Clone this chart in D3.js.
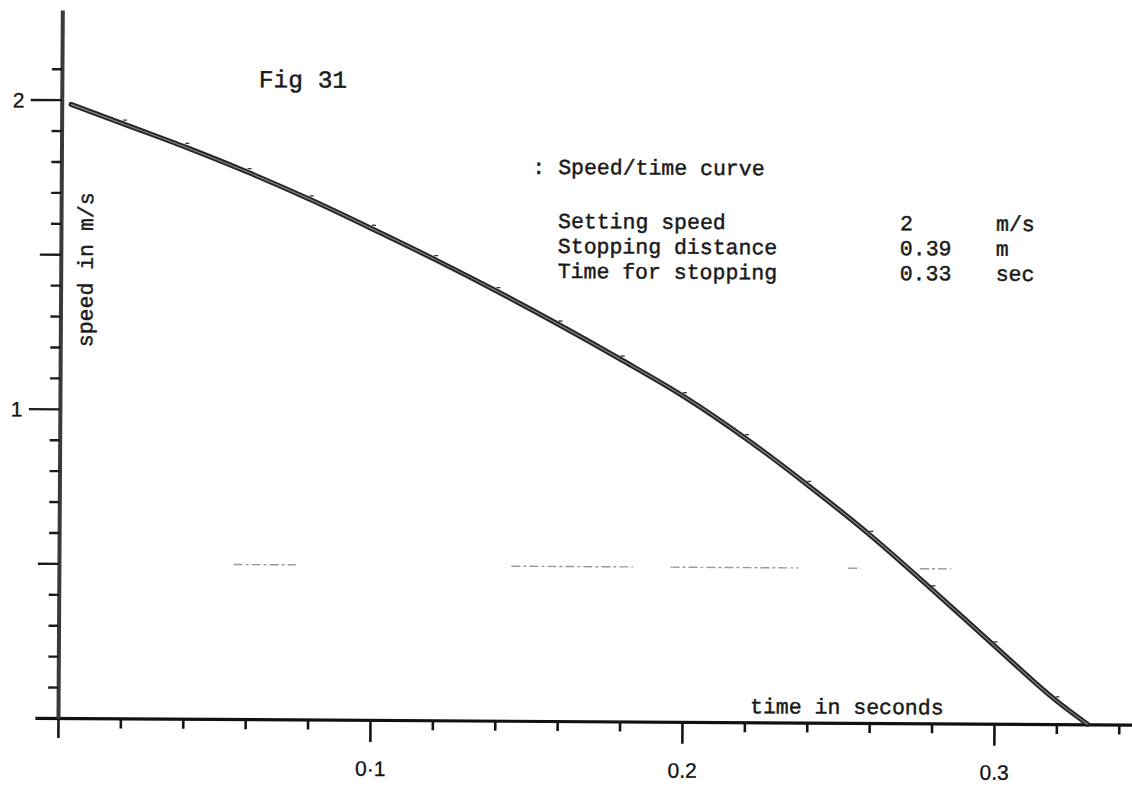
<!DOCTYPE html>
<html>
<head>
<meta charset="utf-8">
<script src="https://cdn.jsdelivr.net/npm/d3@7"></script>
<style>
  html, body { margin: 0; padding: 0; background: #fff; }
  svg { display: block; }
  .mono { font-family: "Liberation Mono", "DejaVu Sans Mono", monospace; fill: #1a1a1a;
          stroke: #1a1a1a; stroke-width: 0.45px; }
  .num { font-family: "Liberation Sans", Arial, sans-serif; fill: #111;
         stroke: #111; stroke-width: 0.3px; }
</style>
</head>
<body>
<svg id="chart" width="1132" height="788"></svg>
<script>
// Speed/time curve of the stopping run (time in s, speed in m/s)
const timeS   = [0.003, 0.02, 0.04, 0.06, 0.08, 0.10, 0.12, 0.14, 0.16, 0.18,
                 0.20, 0.22, 0.24, 0.26, 0.28, 0.30, 0.32, 0.33];
const speedMS = [1.985, 1.922, 1.848, 1.768, 1.681, 1.587, 1.490, 1.388, 1.281, 1.169,
                 1.052, 0.917, 0.767, 0.607, 0.432, 0.252, 0.075, 0];

// Axis ticks
const xTicks      = [0, 0.02, 0.04, 0.06, 0.08, 0.10, 0.12, 0.14, 0.16, 0.18,
                     0.20, 0.22, 0.24, 0.26, 0.28, 0.30, 0.32, 0.34];
const xMajorTicks = [0.1, 0.2, 0.3];
const xTickLabels = ["0·1", "0.2", "0.3"];
const yTicks      = [0.1, 0.2, 0.3, 0.4, 0.5, 0.6, 0.7, 0.8, 0.9, 1.0,
                     1.1, 1.2, 1.3, 1.4, 1.5, 1.6, 1.7, 1.8, 1.9, 2.0, 2.1];
const yMajorTicks = [1, 2];
const yTickLabels = ["1", "2"];

// Text block
const figTitle   = "Fig 31";
const curveTitle = ": Speed/time curve";
const infoRows   = ["Setting speed", "Stopping distance", "Time for stopping"];
const infoValues = ["2", "0.39", "0.33"];
const infoUnits  = ["m/s", "m", "sec"];
const xTitle = "time in seconds";
const yTitle = "speed in m/s";

// Faint pencilled rule at 0.5 m/s, broken into runs (time ranges)
const halfSpeedLevel = 0.5;
const halfSpeedRuns = [[0.056, 0.076], [0.145, 0.184], [0.196, 0.237], [0.253, 0.257], [0.276, 0.286]];

const svg = d3.select("#chart");
const key = d => Math.round(d * 100);

const x = d3.scaleLinear().domain([-0.0074, 0.345]).range([34.9, 1134.4]);
const y = d3.scaleLinear().domain([0, 2.29]).range([718, 10]);

// whole sheet sits very slightly rotated
const g = svg.append("g").attr("transform", `rotate(0.35, ${x(0)}, ${y(0)})`);

// faint rule
g.append("g").selectAll("line").data(halfSpeedRuns).join("line")
  .attr("x1", d => x(d[0])).attr("x2", d => x(d[1]))
  .attr("y1", y(halfSpeedLevel)).attr("y2", y(halfSpeedLevel))
  .attr("stroke", "#9a9a9a").attr("stroke-width", 1.4)
  .attr("stroke-dasharray", "9 3 3 3");

// x axis
const xLabel = new Map(xMajorTicks.map((d, i) => [key(d), xTickLabels[i]]));
const gx = g.append("g").attr("transform", `translate(0,${y(0)})`)
  .call(d3.axisBottom(x).tickValues(xTicks).tickSizeOuter(0)
    .tickFormat(d => xLabel.get(key(d)) || ""));
gx.attr("font-size", null);
gx.select(".domain").attr("stroke", "#111").attr("stroke-width", 3.2);
gx.selectAll(".tick line")
  .attr("stroke", "#151515").attr("stroke-width", 2.6)
  .attr("y2", d => xLabel.has(key(d)) ? 22 : (key(d) === 0 ? 20 : 10));
gx.selectAll(".tick text")
  .attr("class", "num").attr("font-size", 21)
  .attr("dy", null).attr("y", 56);

// y axis
const yLabel = new Map(yMajorTicks.map((d, i) => [Math.round(d * 10), yTickLabels[i]]));
const gy = g.append("g").attr("transform", `translate(${x(0)},0)`)
  .call(d3.axisLeft(y).tickValues(yTicks).tickSizeOuter(0)
    .tickFormat(d => yLabel.get(Math.round(d * 10)) || ""));
gy.attr("font-size", null);
gy.select(".domain").attr("stroke", "#3a3a3a").attr("stroke-width", 4);
gy.selectAll(".tick line")
  .attr("stroke", "#1a1a1a").attr("stroke-width", 2.4)
  .attr("x2", d => {
    const k = Math.round(d * 10);
    if (k % 10 === 0) return -31;
    if (k % 5 === 0) return -21;
    return -10;
  });
gy.selectAll(".tick text")
  .attr("class", "num").attr("font-size", 21)
  .attr("text-anchor", "start").attr("x", -49).attr("dy", "0.36em");

// curve
const pts = timeS.map((t, i) => [t, speedMS[i]]);
const line = d3.line().x(d => x(d[0])).y(d => y(d[1])).curve(d3.curveMonotoneX);
g.append("path").datum(pts).attr("d", line)
  .attr("fill", "none").attr("stroke", "#262626").attr("stroke-width", 5)
  .attr("stroke-linecap", "round");
g.append("path").datum(pts).attr("d", line)
  .attr("fill", "none").attr("stroke", "#8c8c8c").attr("stroke-width", 1.1);

// small plotted-point marks along the curve
g.append("g").selectAll("line").data(pts.slice(1, -1)).join("line")
  .attr("x1", d => x(d[0]) - 1).attr("x2", d => x(d[0]) + 3)
  .attr("y1", d => y(d[1]) - 4).attr("y2", d => y(d[1]) - 4)
  .attr("stroke", "#333").attr("stroke-width", 1.3);

// texts
g.append("text").attr("class", "mono").attr("font-size", 24.5)
  .attr("x", 255).attr("y", 86).text(figTitle);

g.append("text").attr("class", "mono").attr("font-size", 21.5)
  .attr("x", 529).attr("y", 171).attr("xml:space", "preserve").text(curveTitle);

const rows = g.append("g").selectAll("g").data(infoRows).join("g")
  .attr("transform", (d, i) => `translate(0,${225 + i * 25})`);
rows.append("text").attr("class", "mono").attr("font-size", 21.5)
  .attr("x", 555).text(d => d);
rows.append("text").attr("class", "mono").attr("font-size", 21.5)
  .attr("x", 897).text((d, i) => infoValues[i]);
rows.append("text").attr("class", "mono").attr("font-size", 21.5)
  .attr("x", 993).text((d, i) => infoUnits[i]);

g.append("text").attr("class", "mono").attr("font-size", 21.5)
  .attr("x", 750).attr("y", 709).text(xTitle);

g.append("text").attr("class", "mono").attr("font-size", 21.5)
  .attr("transform", "translate(90,347) rotate(-90)").text(yTitle);
</script>
</body>
</html>
